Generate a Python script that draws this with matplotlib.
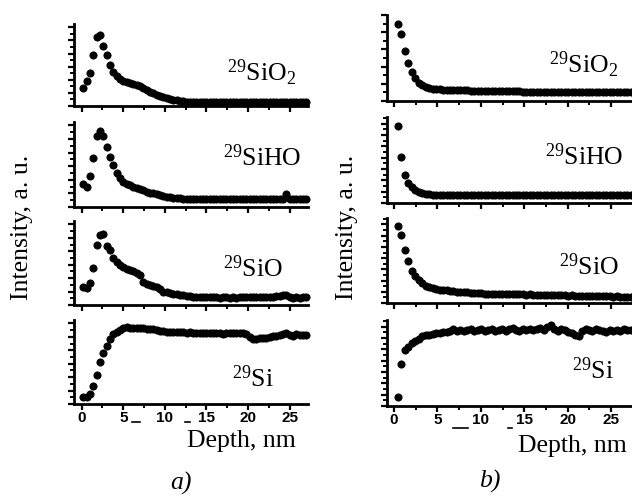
import matplotlib
matplotlib.use("Agg")
import matplotlib.pyplot as plt
from matplotlib.ticker import MultipleLocator, NullFormatter
from matplotlib.lines import Line2D

# depth grids (nm)
depth_a = [0.2, 0.6, 1.0, 1.4, 1.8, 2.2, 2.6, 3.0, 3.4, 3.8,
           4.2, 4.6, 5.0, 5.4, 5.8, 6.2, 6.6, 7.0, 7.4, 7.8,
           8.2, 8.6, 9.0, 9.4, 9.8, 10.2, 10.6, 11.0, 11.4, 11.8,
           12.2, 12.6, 13.0, 13.4, 13.8, 14.2, 14.6, 15.0, 15.4, 15.8,
           16.2, 16.6, 17.0, 17.4, 17.8, 18.2, 18.6, 19.0, 19.4, 19.8,
           20.2, 20.6, 21.0, 21.4, 21.8, 22.2, 22.6, 23.0, 23.4, 23.8,
           24.2, 24.6, 25.0, 25.4, 25.8, 26.2, 26.6, 27.0]
depth_b = [0.45, 0.85, 1.25, 1.65, 2.05, 2.45, 2.85, 3.25, 3.65, 4.05,
           4.45, 4.85, 5.25, 5.65, 6.05, 6.45, 6.85, 7.25, 7.65, 8.05,
           8.45, 8.85, 9.25, 9.65, 10.05, 10.45, 10.85, 11.25, 11.65, 12.05,
           12.45, 12.85, 13.25, 13.65, 14.05, 14.45, 14.85, 15.25, 15.65, 16.05,
           16.45, 16.85, 17.25, 17.65, 18.05, 18.45, 18.85, 19.25, 19.65, 20.05,
           20.45, 20.85, 21.25, 21.65, 22.05, 22.45, 22.85, 23.25, 23.65, 24.05,
           24.45, 24.85, 25.25, 25.65, 26.05, 26.45, 26.85, 27.25]

# panel a) intensities (a.u., normalised to the frame height)
a_sio2 = [0.22, 0.30, 0.40, 0.62, 0.84, 0.86, 0.73, 0.62, 0.50, 0.41,
          0.36, 0.33, 0.31, 0.295, 0.28, 0.27, 0.255, 0.24, 0.22, 0.20,
          0.175, 0.155, 0.14, 0.125, 0.11, 0.095, 0.085, 0.075, 0.068, 0.062,
          0.057, 0.053, 0.05, 0.048, 0.047, 0.046, 0.045, 0.046, 0.045, 0.044,
          0.045, 0.044, 0.045, 0.046, 0.044, 0.045, 0.044, 0.045, 0.045, 0.044,
          0.045, 0.044, 0.045, 0.045, 0.044, 0.045, 0.046, 0.044, 0.045, 0.044,
          0.045, 0.044, 0.045, 0.046, 0.044, 0.045, 0.045, 0.044]
a_siho = [0.27, 0.24, 0.36, 0.58, 0.83, 0.90, 0.84, 0.71, 0.59, 0.49,
          0.40, 0.34, 0.30, 0.275, 0.255, 0.24, 0.225, 0.21, 0.195, 0.18,
          0.17, 0.16, 0.15, 0.14, 0.13, 0.122, 0.115, 0.11, 0.106, 0.103,
          0.10, 0.098, 0.096, 0.095, 0.094, 0.095, 0.093, 0.094, 0.095, 0.093,
          0.094, 0.093, 0.095, 0.094, 0.093, 0.094, 0.095, 0.093, 0.094, 0.093,
          0.094, 0.095, 0.093, 0.094, 0.093, 0.095, 0.094, 0.093, 0.094, 0.095,
          0.094, 0.15, 0.094, 0.093, 0.094, 0.095, 0.093, 0.094]
a_sio = [0.21, 0.20, 0.26, 0.44, 0.72, 0.83, 0.84, 0.70, 0.66, 0.56,
         0.51, 0.48, 0.45, 0.43, 0.415, 0.40, 0.385, 0.36, 0.27, 0.245,
         0.24, 0.23, 0.21, 0.185, 0.16, 0.15, 0.145, 0.135, 0.128, 0.12,
         0.115, 0.11, 0.105, 0.10, 0.10, 0.097, 0.095, 0.092, 0.09, 0.092,
         0.09, 0.088, 0.09, 0.092, 0.088, 0.09, 0.087, 0.09, 0.092, 0.09,
         0.095, 0.10, 0.095, 0.097, 0.10, 0.095, 0.093, 0.10, 0.105, 0.11,
         0.115, 0.12, 0.09, 0.085, 0.09, 0.088, 0.09, 0.092]
a_si = [0.083, 0.085, 0.12, 0.21, 0.35, 0.50, 0.61, 0.69, 0.77, 0.83,
        0.86, 0.885, 0.90, 0.915, 0.91, 0.905, 0.91, 0.90, 0.905, 0.895,
        0.89, 0.89, 0.88, 0.875, 0.865, 0.86, 0.86, 0.855, 0.86, 0.855,
        0.855, 0.85, 0.855, 0.85, 0.845, 0.85, 0.845, 0.84, 0.85, 0.845,
        0.84, 0.845, 0.835, 0.85, 0.845, 0.85, 0.845, 0.85, 0.85, 0.83,
        0.80, 0.775, 0.77, 0.785, 0.79, 0.79, 0.80, 0.805, 0.81, 0.82,
        0.83, 0.84, 0.82, 0.81, 0.83, 0.82, 0.825, 0.82]

# panel b)
b_sio2 = [0.90, 0.78, 0.58, 0.44, 0.34, 0.265, 0.215, 0.185, 0.165, 0.152,
          0.145, 0.14, 0.135, 0.132, 0.13, 0.128, 0.127, 0.126, 0.125, 0.124,
          0.123, 0.122, 0.121, 0.12, 0.119, 0.118, 0.117, 0.116, 0.116, 0.115,
          0.114, 0.114, 0.113, 0.112, 0.112, 0.111, 0.11, 0.11, 0.109, 0.109,
          0.108, 0.108, 0.107, 0.107, 0.106, 0.106, 0.105, 0.105, 0.105, 0.104,
          0.104, 0.104, 0.103, 0.103, 0.103, 0.102, 0.102, 0.102, 0.101, 0.101,
          0.101, 0.10, 0.10, 0.10, 0.10, 0.099, 0.099, 0.099]
b_siho = [0.89, 0.53, 0.33, 0.23, 0.185, 0.155, 0.13, 0.115, 0.105, 0.10,
          0.097, 0.095, 0.094, 0.093, 0.092, 0.092, 0.091, 0.091, 0.09, 0.09,
          0.091, 0.09, 0.089, 0.09, 0.091, 0.09, 0.089, 0.09, 0.09, 0.091,
          0.09, 0.089, 0.09, 0.091, 0.09, 0.089, 0.09, 0.09, 0.091, 0.09,
          0.089, 0.09, 0.091, 0.09, 0.09, 0.089, 0.09, 0.091, 0.09, 0.089,
          0.09, 0.091, 0.09, 0.089, 0.09, 0.09, 0.091, 0.09, 0.089, 0.09,
          0.091, 0.09, 0.089, 0.09, 0.09, 0.091, 0.09, 0.089]
b_sio = [0.91, 0.80, 0.62, 0.50, 0.38, 0.32, 0.27, 0.235, 0.205, 0.19,
         0.175, 0.165, 0.158, 0.152, 0.148, 0.145, 0.14, 0.135, 0.132, 0.128,
         0.125, 0.12, 0.118, 0.115, 0.113, 0.11, 0.11, 0.108, 0.11, 0.107,
         0.108, 0.105, 0.11, 0.106, 0.104, 0.105, 0.103, 0.10, 0.102, 0.10,
         0.098, 0.10, 0.097, 0.095, 0.092, 0.094, 0.09, 0.092, 0.09, 0.088,
         0.09, 0.087, 0.085, 0.087, 0.083, 0.085, 0.082, 0.08, 0.082, 0.079,
         0.08, 0.077, 0.075, 0.077, 0.074, 0.072, 0.073, 0.07]
b_si = [0.105, 0.49, 0.655, 0.69, 0.73, 0.755, 0.775, 0.81, 0.82, 0.83,
        0.835, 0.845, 0.85, 0.86, 0.855, 0.87, 0.90, 0.875, 0.885, 0.87,
        0.88, 0.89, 0.87, 0.885, 0.895, 0.875, 0.88, 0.89, 0.875, 0.885,
        0.89, 0.875, 0.895, 0.905, 0.885, 0.875, 0.89, 0.88, 0.90, 0.885,
        0.89, 0.905, 0.88, 0.92, 0.94, 0.90, 0.875, 0.89, 0.88, 0.86,
        0.85, 0.83, 0.815, 0.87, 0.90, 0.88, 0.875, 0.89, 0.88, 0.87,
        0.865, 0.885, 0.875, 0.88, 0.87, 0.89, 0.88, 0.88]

labels = [r"$^{29}$SiO$_2$", r"$^{29}$SiHO", r"$^{29}$SiO", r"$^{29}$Si"]

W, H = 632, 496
serif = "Liberation Serif"
tick_font = "Liberation Sans"

plt.rcParams["font.family"] = serif
plt.rcParams["mathtext.fontset"] = "custom"
plt.rcParams["mathtext.rm"] = serif
plt.rcParams["mathtext.it"] = serif + ":italic"

fig = plt.figure(figsize=(W / 100, H / 100), dpi=100)


def px_axes(l, t, r, b):
    return fig.add_axes([l / W, 1 - b / H, (r - l) / W, (b - t) / H])


def fig_text(x, y, s, **kw):
    fig.text(x / W, 1 - y / H, s, **kw)


def style(ax, xlim, ystep, show_labels):
    ax.set_xlim(*xlim)
    ax.set_ylim(0, 1)
    for sp in ["top", "right"]:
        ax.spines[sp].set_visible(False)
    for sp in ["left", "bottom"]:
        ax.spines[sp].set_linewidth(2.0)
    ax.xaxis.set_major_locator(MultipleLocator(5))
    ax.xaxis.set_minor_locator(MultipleLocator(2.5))
    ax.yaxis.set_major_locator(MultipleLocator(2 * ystep))
    ax.yaxis.set_minor_locator(MultipleLocator(ystep))
    ax.yaxis.set_major_formatter(NullFormatter())
    ax.tick_params(which="major", direction="out", length=4, width=1.6)
    ax.tick_params(which="minor", direction="out", length=3, width=1.4)
    if show_labels:
        ax.tick_params(axis="x", labelsize=11, pad=1)
        for lab in ax.get_xticklabels():
            lab.set_fontfamily(tick_font)
            lab.set_fontweight("bold")
    else:
        ax.xaxis.set_major_formatter(NullFormatter())


def draw(ax, depth, vals):
    ax.plot(depth, vals, "o", color="black", ms=5.2, mew=0.6, clip_on=False)


# panel a)
boxes_a = [(74, 24, 308, 106), (74, 122, 308, 207), (74, 221, 308, 305), (74, 320, 308, 404)]
series_a = [a_sio2, a_siho, a_sio, a_si]
lab_a = [(227, 81), (223, 166), (223, 277), (232, 387)]
for i, box in enumerate(boxes_a):
    ax = px_axes(*box)
    draw(ax, depth_a, series_a[i])
    style(ax, (-0.92, 27.2), 0.08, i == 3)
    fig_text(*lab_a[i], labels[i], fontsize=18.5, ha="left", va="baseline")

# panel b)
boxes_b = [(387, 15, 632, 101), (387, 117, 632, 203), (387, 218, 632, 303), (387, 320, 632, 406)]
series_b = [b_sio2, b_siho, b_sio, b_si]
steps_b = [0.1, 0.066, 0.066, 0.066]
lab_b = [(549, 73), (545, 165), (559, 275), (572, 379)]
for i, box in enumerate(boxes_b):
    ax = px_axes(*box)
    draw(ax, depth_b, series_b[i])
    style(ax, (-0.8, 27.4), steps_b[i], i == 3)
    fig_text(*lab_b[i], labels[i], fontsize=18.5, ha="left", va="baseline")

# axis titles
for x in (22, 347):
    fig_text(x, 227, "Intensity, a. u.", fontsize=18.5, rotation=90, ha="center", va="center")
fig_text(241, 441, "Depth, nm", fontsize=18.5, ha="center", va="center")
fig_text(572, 446, "Depth, nm", fontsize=18.5, ha="center", va="center")
fig_text(181, 483, "a)", fontsize=18.5, style="italic", ha="center", va="center")
fig_text(490, 481, "b)", fontsize=18.5, style="italic", ha="center", va="center")

# small dash artefacts next to the tick labels in the scan
for x0, x1, y in [(132, 140, 422), (185, 190, 422), (453, 468, 428), (508, 512, 428)]:
    fig.add_artist(Line2D([x0 / W, x1 / W], [1 - y / H, 1 - y / H],
                          transform=fig.transFigure, color="black", lw=1.2))

fig.savefig("out.png", dpi=100)
